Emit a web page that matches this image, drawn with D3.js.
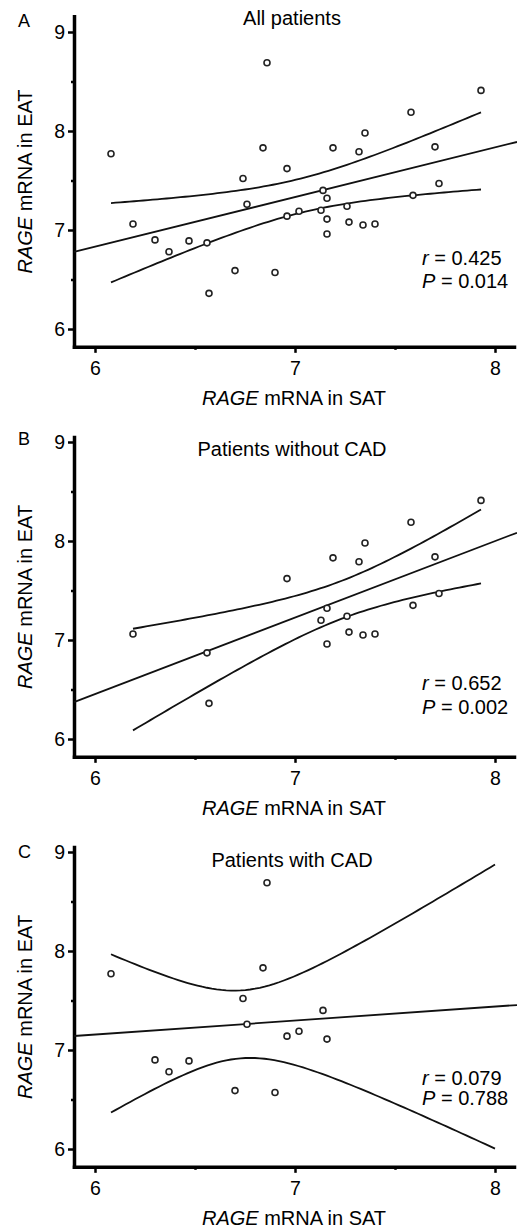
<!DOCTYPE html>
<html lang="en">
<head>
<meta charset="UTF-8">
<title>RAGE mRNA in SAT vs EAT</title>
<script src="https://d3js.org/d3.v7.min.js"></script>
<style>
  body { margin: 0; background: #fff; }
  svg { display: block; font-family: "Liberation Sans", Arial, sans-serif; }
</style>
</head>
<body>
<script>
// values: RAGE mRNA in SAT (x) and in EAT (y)
let noCadSat = [7.93, 7.58, 7.35, 7.19, 7.32, 7.70, 6.96, 7.72, 7.16, 7.59, 7.26, 7.13, 7.27, 7.34, 7.40, 7.16, 6.19, 6.56, 6.57];
let noCadEat = [8.41, 8.19, 7.98, 7.83, 7.79, 7.84, 7.62, 7.47, 7.32, 7.35, 7.24, 7.20, 7.08, 7.05, 7.06, 6.96, 7.06, 6.87, 6.36];
let cadSat = [6.86, 6.08, 6.84, 6.74, 7.14, 6.76, 6.96, 7.02, 7.16, 6.30, 6.47, 6.37, 6.70, 6.90];
let cadEat = [8.69, 7.77, 7.83, 7.52, 7.40, 7.26, 7.14, 7.19, 7.11, 6.90, 6.89, 6.78, 6.59, 6.57];

let panelLetters = ["A", "B", "C"];
let panelTitles = ["All patients", "Patients without CAD", "Patients with CAD"];
let rLabels = ["0.425", "0.652", "0.079"];
let pLabels = ["0.014", "0.002", "0.788"];
let tCrit = [2.040, 2.110, 2.179];   // t(0.975, n-2)
let bandEnd = [null, null, 8.0];     // panel C bands run on to 8
let xTicks = [6, 7, 8];
let xMinor = [6.5, 7.5];
let yTicks = [6, 7, 8, 9];
let yMinor = [6.5, 7.5, 8.5];

let panels = [
    { sat: noCadSat.concat(cadSat), eat: noCadEat.concat(cadEat) },
    { sat: noCadSat, eat: noCadEat },
    { sat: cadSat, eat: cadEat }
];

const w = 517, h = 1228;
const svg = d3.select('body').append('svg').attr('width', w).attr('height', h);

const x = d3.scaleLinear().domain([5.895, 8.095]).range([74, 514]);
const unitY = 99;

// layout per panel (pixel row of the "9" tick etc.)
const y9s = [32, 442, 852];
const yTops = [9.16, 9.05, 9.05];
const letterY = [27, 445, 858];
const titleY = [25, 456, 867];
const rY = [265, 690, 1085];
const pY = [288, 714, 1105];

function fit(xs, ys) {
    const n = xs.length;
    const mx = d3.mean(xs), my = d3.mean(ys);
    let sxx = 0, sxy = 0;
    xs.forEach((v, i) => { sxx += (v - mx) ** 2; sxy += (v - mx) * (ys[i] - my); });
    const b = sxy / sxx, a = my - b * mx;
    let sse = 0;
    xs.forEach((v, i) => { sse += (ys[i] - a - b * v) ** 2; });
    const s = Math.sqrt(sse / (n - 2));
    return { n, mx, sxx, a, b, s };
}

panels.forEach((p, i) => {
    const y9 = y9s[i];
    const y = d3.scaleLinear().domain([5.82, yTops[i]])
        .range([y9 + 3 * unitY + 0.18 * unitY, y9 - (yTops[i] - 9) * unitY]);
    const bottom = y(5.82);
    const g = svg.append('g');

    // minor ticks
    g.append('g').attr('transform', `translate(0,${bottom})`)
        .call(d3.axisBottom(x).tickValues(xMinor).tickSize(3).tickFormat(''))
        .call(a => a.select('.domain').remove())
        .selectAll('line').attr('stroke-width', 2.5);
    g.append('g').attr('transform', `translate(${x.range()[0]},0)`)
        .call(d3.axisLeft(y).tickValues(yMinor).tickSize(3).tickFormat(''))
        .call(a => a.select('.domain').remove())
        .selectAll('line').attr('stroke-width', 2.5);

    // major axes
    const xa = g.append('g').attr('transform', `translate(0,${bottom})`)
        .call(d3.axisBottom(x).tickValues(xTicks).tickSize(6).tickSizeOuter(0).tickPadding(8).tickFormat(d3.format('d')));
    const ya = g.append('g').attr('transform', `translate(${x.range()[0]},0)`)
        .call(d3.axisLeft(y).tickValues(yTicks).tickSize(6).tickSizeOuter(0).tickPadding(3).tickFormat(d3.format('d')));
    [xa, ya].forEach(a => {
        a.select('.domain').attr('stroke-width', 3.5).attr('stroke-linecap', 'square');
        a.selectAll('.tick line').attr('stroke-width', 2.5);
        a.selectAll('text').attr('font-size', 19.5).attr('fill', '#000')
            .attr('font-family', '"Liberation Sans", Arial, sans-serif');
    });

    // axis titles
    const xt = g.append('text').attr('x', (x.range()[0] + x.range()[1]) / 2).attr('y', bottom + 58)
        .attr('text-anchor', 'middle').attr('font-size', 20);
    xt.append('tspan').attr('font-style', 'italic').text('RAGE');
    xt.append('tspan').text(' mRNA in SAT');

    const ymid = (y.range()[0] + y.range()[1]) / 2;
    const yt = g.append('text').attr('transform', `translate(32,${ymid}) rotate(-90)`)
        .attr('text-anchor', 'middle').attr('font-size', 20);
    yt.append('tspan').attr('font-style', 'italic').text('RAGE');
    yt.append('tspan').text(' mRNA in EAT');

    g.append('text').attr('x', 18).attr('y', letterY[i]).attr('font-size', 18).text(panelLetters[i]);
    g.append('text').attr('x', 292).attr('y', titleY[i]).attr('text-anchor', 'middle')
        .attr('font-size', 20).text(panelTitles[i]);

    // regression line and 95% confidence band of the mean
    const f = fit(p.sat, p.eat);
    const line = d3.line().x(d => x(d[0])).y(d => y(d[1]));
    g.append('path').datum([[5.895, f.a + f.b * 5.895], [8.11, f.a + f.b * 8.11]])
        .attr('d', line).attr('fill', 'none').attr('stroke', '#111').attr('stroke-width', 1.8);

    const x0 = d3.min(p.sat), x1 = bandEnd[i] || d3.max(p.sat);
    const xs = d3.range(0, 81).map(k => x0 + (x1 - x0) * k / 80);
    const half = v => tCrit[i] * f.s * Math.sqrt(1 / f.n + (v - f.mx) ** 2 / f.sxx);
    [1, -1].forEach(sign => {
        g.append('path').datum(xs.map(v => [v, f.a + f.b * v + sign * half(v)]))
            .attr('d', line).attr('fill', 'none')
            .attr('stroke', '#111').attr('stroke-width', 1.8);
    });

    // points
    g.selectAll('circle.pt').data(p.sat.map((v, k) => [v, p.eat[k]])).enter()
        .append('circle').attr('class', 'pt')
        .attr('cx', d => x(d[0])).attr('cy', d => y(d[1])).attr('r', 3)
        .attr('fill', '#fff').attr('stroke', '#222').attr('stroke-width', 1.6);

    // r and P
    const rt = g.append('text').attr('x', 422).attr('y', rY[i]).attr('font-size', 20);
    rt.append('tspan').attr('font-style', 'italic').text('r');
    rt.append('tspan').text(' = ' + rLabels[i]);
    const pt = g.append('text').attr('x', 422).attr('y', pY[i]).attr('font-size', 20);
    pt.append('tspan').attr('font-style', 'italic').text('P');
    pt.append('tspan').text(' = ' + pLabels[i]);
});
</script>
</body>
</html>
